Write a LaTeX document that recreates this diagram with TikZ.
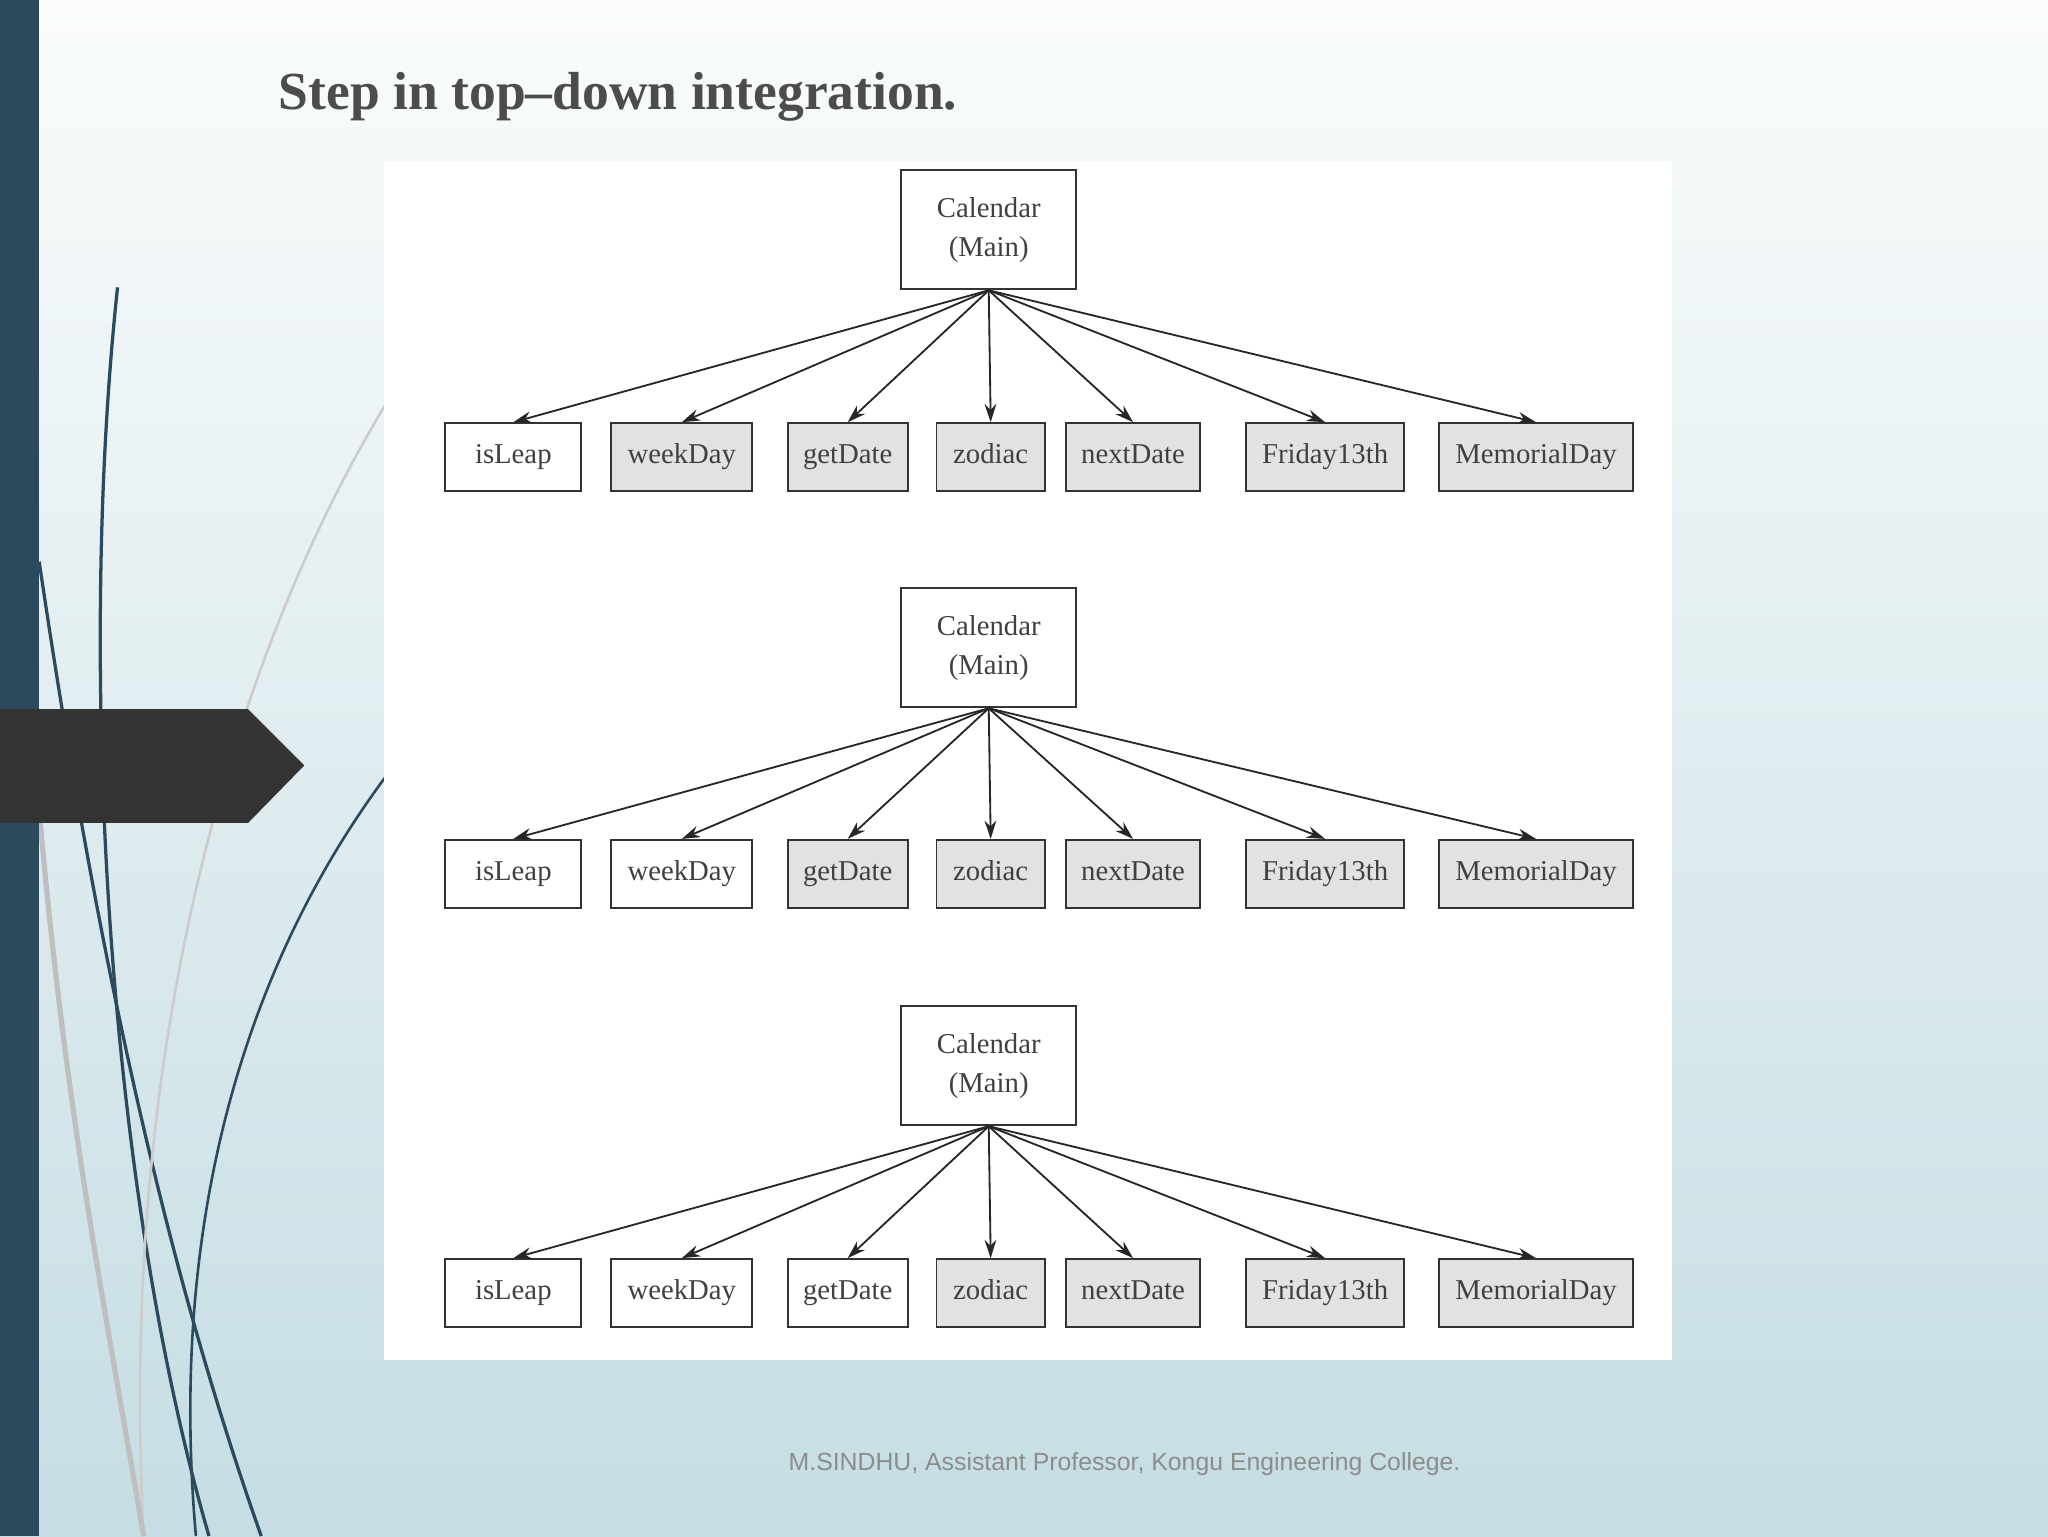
\documentclass[tikz,border=0pt]{standalone}
\usepackage{fontspec}
\setmainfont{Liberation Serif}
\newfontfamily\footfont{Liberation Sans}
\usetikzlibrary{arrows.meta}
\definecolor{barc}{HTML}{2C4A5E}
\definecolor{bgtop}{HTML}{FAFCFC}
\definecolor{bgbot}{HTML}{C5DDE3}
\definecolor{boxg}{HTML}{E2E2E2}
\begin{document}
\begin{tikzpicture}[x=1pt,y=-1pt,
  bx/.style={draw=black!80,line width=1.5pt,minimum height=52pt,inner sep=0pt,text height=15pt,text depth=5pt,font=\fontsize{22}{24}\selectfont,text=black!75},
  gbx/.style={bx,fill=boxg},
  wbx/.style={bx,fill=white},
  cal/.style={draw=black!80,line width=1.5pt,fill=white,minimum width=134pt,minimum height=91pt,align=center,inner sep=0pt,font=\fontsize{22}{30}\selectfont,text=black!75},
  arr/.style={-{Stealth[length=14pt,width=9pt]},line width=1.4pt,black!85}]
\useasboundingbox (0,0) rectangle (1568,1176);
\shade[top color=bgtop,bottom color=bgbot] (0,0) rectangle (1568,1176);
% decorative curves
\draw[barc,line width=2.5pt] (30,430) .. controls (70,700) and (120,950) .. (200,1176);
\draw[barc,line width=2.5pt] (90,220) .. controls (60,500) and (80,900) .. (160,1176);
\draw[barc,line width=2pt] (295,595) .. controls (180,750) and (130,950) .. (150,1176);
\draw[gray!40,line width=2pt] (295,310) .. controls (180,500) and (90,800) .. (110,1176);
\draw[gray!50,line width=4pt] (30,620) .. controls (50,850) and (80,1000) .. (110,1176);
\fill[barc] (0,0) rectangle (30,1176);
\fill[black!80] (0,543) -- (190,543) -- (233,586) -- (190,630) -- (0,630) -- cycle;
\fill[white] (294,123) rectangle (1280,1041);
\node[anchor=west,font=\bfseries\fontsize{41}{48}\selectfont,text=black!70] (title) at (210,74) {Step in top–down integration.};
\node[font=\footfont\fontsize{19}{22}\selectfont,text=black!45] (foot) at (861,1121) {M.SINDHU, Assistant Professor, Kongu Engineering College.};
\foreach \r/\cy/\y/\wa/\wb/\wc in {1/176/350/wbx/gbx/gbx, 2/496/669/wbx/wbx/gbx, 3/816/990/wbx/wbx/wbx}{
  \node[cal] (c\r) at (757,\cy) {Calendar\\(Main)};
  \node[\wa,minimum width=104pt] (a\r) at (393,\y) {isLeap};
  \node[\wb,minimum width=108pt] (b\r) at (522,\y) {weekDay};
  \node[\wc,minimum width=92pt] (d\r) at (649,\y) {getDate};
  \node[gbx,minimum width=83pt] (e\r) at (758.5,\y) {zodiac};
  \node[gbx,minimum width=103pt] (f\r) at (867.5,\y) {nextDate};
  \node[gbx,minimum width=121pt] (g\r) at (1014.5,\y) {Friday13th};
  \node[gbx,minimum width=148pt] (h\r) at (1176,\y) {MemorialDay};
  \foreach \n in {a,b,d,e,f,g,h}{ \draw[arr] (c\r.south) -- (\n\r.north); }
}
\end{tikzpicture}
\end{document}
